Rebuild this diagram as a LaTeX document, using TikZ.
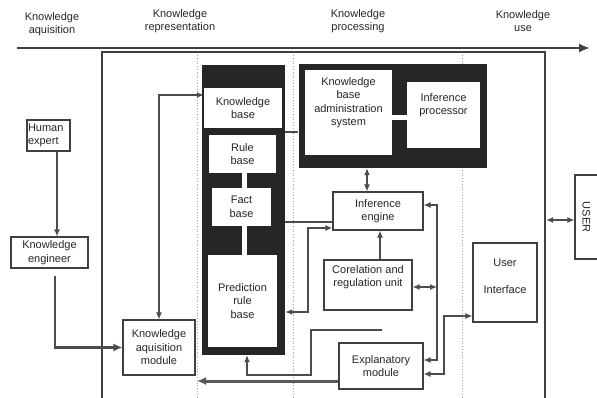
\documentclass[tikz,border=0pt]{standalone}
\usepackage{fontspec}
\setmainfont{Liberation Sans}
\usetikzlibrary{arrows.meta, calc, positioning}
% box text hung from the top: height, width, first baseline, text
\newcommand{\toplines}[4]{\parbox[c][#1][t]{#2}{\centering\rule{0pt}{#3}#4}}

\begin{document}
\begin{tikzpicture}[x=1pt, y=-1pt, >={Latex[length=7pt,width=6pt]},
    font=\fontsize{11}{13.5}\selectfont, text=black!85,
    box/.style={draw=black!75, line width=1.1pt, fill=white, align=center, inner sep=1pt},
    wbox/.style={fill=white, align=center, inner sep=0pt},
    dark/.style={fill=black!85, inner sep=0pt},
    link/.style={draw=black!70, line width=1.3pt},
    phase/.style={dotted, gray!70, line width=0.8pt}]
  \useasboundingbox (0,0) rectangle (597,397);
  % phase titles and time line
  \node[align=center] (tacq) at (52,24) {Knowledge\\aquisition};
  \node[align=center] (trep) at (180,21) {Knowledge\\representation};
  \node[align=center] (tpro) at (358,21) {Knowledge\\processing};
  \node[align=center] (tuse) at (523,21) {Knowledge\\use};
  \coordinate (tl) at (17,48);
  \coordinate (tr) at (590,48);
  \draw[-{Latex[length=11pt,width=9pt]}, line width=2pt, black!75] (tl) -- (tr);
  % system frame and phase borders
  \draw[line width=2pt, black!75] (102,398) -- (102,52) -- (545,52) -- (545,398);
  \foreach \x in {197,293,462}
    \draw[phase] (\x,55) -- (\x,397);
  % knowledge representation block
  \node[dark, minimum width=83, minimum height=290] (krep) at (243.5,210) {};
  \fill[white] (242,170) rectangle (247,190);
  \fill[white] (242,224) rectangle (247,257);
  \node[wbox, minimum width=78, minimum height=40] (kb) at (243,108) {Knowledge\\base};
  \node[wbox, minimum width=67, minimum height=38] (rb) at (242.5,154) {Rule\\base};
  \node[wbox, minimum width=59, minimum height=38] (fb) at (241.5,207) {Fact\\base};
  \node[wbox, minimum width=69, minimum height=92] (prb) at (242.5,301) {Prediction\\rule\\base};
  % knowledge processing block
  \node[dark, minimum width=188, minimum height=104] (kadm) at (392.5,116) {};
  \fill[white] (390,115) rectangle (409,120);
  \node[wbox] (kbas) at (348.5,112.5)
    {\toplines{85pt}{87pt}{15pt}{Knowledge\\base\\administration\\system}};
  \node[wbox] (ip) at (443.5,115)
    {\toplines{66pt}{73pt}{19pt}{Inference\\processor}};
  \node[box, minimum width=90, minimum height=38] (ie) at (378,211) {Inference\\engine};
  \node[box, inner sep=0pt] (cru) at (368,285)
    {\toplines{50pt}{88pt}{13pt}{Corelation and\\regulation unit}};
  \node[box, minimum width=84, minimum height=46] (em) at (381,366) {Explanatory\\module};
  % knowledge use
  \node[box, inner sep=0pt] (ui) at (505,282.5)
    {\toplines{79pt}{64pt}{23pt}{User\\[14pt]Interface}};
  \node[box, rotate=-90, minimum width=84, minimum height=23] (usr) at (586.5,217) {USER};
  % knowledge aquisition
  \node[box, align=left, text width=41, minimum height=31] (hexp) at (48.5,135.5) {Human\\expert};
  \node[box, minimum width=77, minimum height=31] (keng) at (49.5,252.5) {Knowledge\\engineer};
  \node[box, minimum width=72, minimum height=55] (kam) at (159,347.5) {Knowledge\\aquisition\\module};
  % connectors
  \draw[link, ->] ([xshift=8.5pt]hexp.south) -- ([xshift=8.5pt]hexp.south |- keng.north);
  \draw[link, line width=2.2pt, -{Latex[length=9pt,width=8pt]}] ([xshift=5.5pt,yshift=-7pt]keng.south) |- (kam.west);
  \draw[link, <->] (kam.north) |- ([yshift=13pt]kb.west);
  \draw[link] (krep.east |- 0,132) -- (kadm.west |- 0,132);
  \draw[link, <->] (kadm.south -| 367,0) -- (ie.north -| 367,0);
  \draw[link] (krep.east |- 0,222) -- (ie.west |- 0,222);
  \draw[link, <->] (krep.east |- 0,312) -- (308,312) -- (308,228) -- (ie.west |- 0,228);
  \draw[link, ->] (cru.north -| 380,0) -- (ie.south -| 380,0);
  \draw[link, <->] (ie.east |- 0,205) -- (437,205) -- (437,360) -- (em.east |- 0,360);
  \draw[link, <->] (cru.east |- 0,287) -- (437,287);
  \draw[link, <->] (em.east |- 0,374) -- (444,374) -- (444,316) -- (ui.west |- 0,316);
  \coordinate (fbk) at (382,330);
  \draw[link, ->] (fbk) -- (311,330) -- (311,375) -- (247,375) -- (krep.south -| 247,0);
  \coordinate (expout) at (197,381);
  \draw[line width=3pt, black!65, -{Latex[length=9pt,width=8pt]}] (em.west |- 0,381) -- (expout);
  \coordinate (frameR) at (546,220);
  \draw[link, <->] (frameR) -- (usr.south |- 0,220);
\end{tikzpicture}
\end{document}
